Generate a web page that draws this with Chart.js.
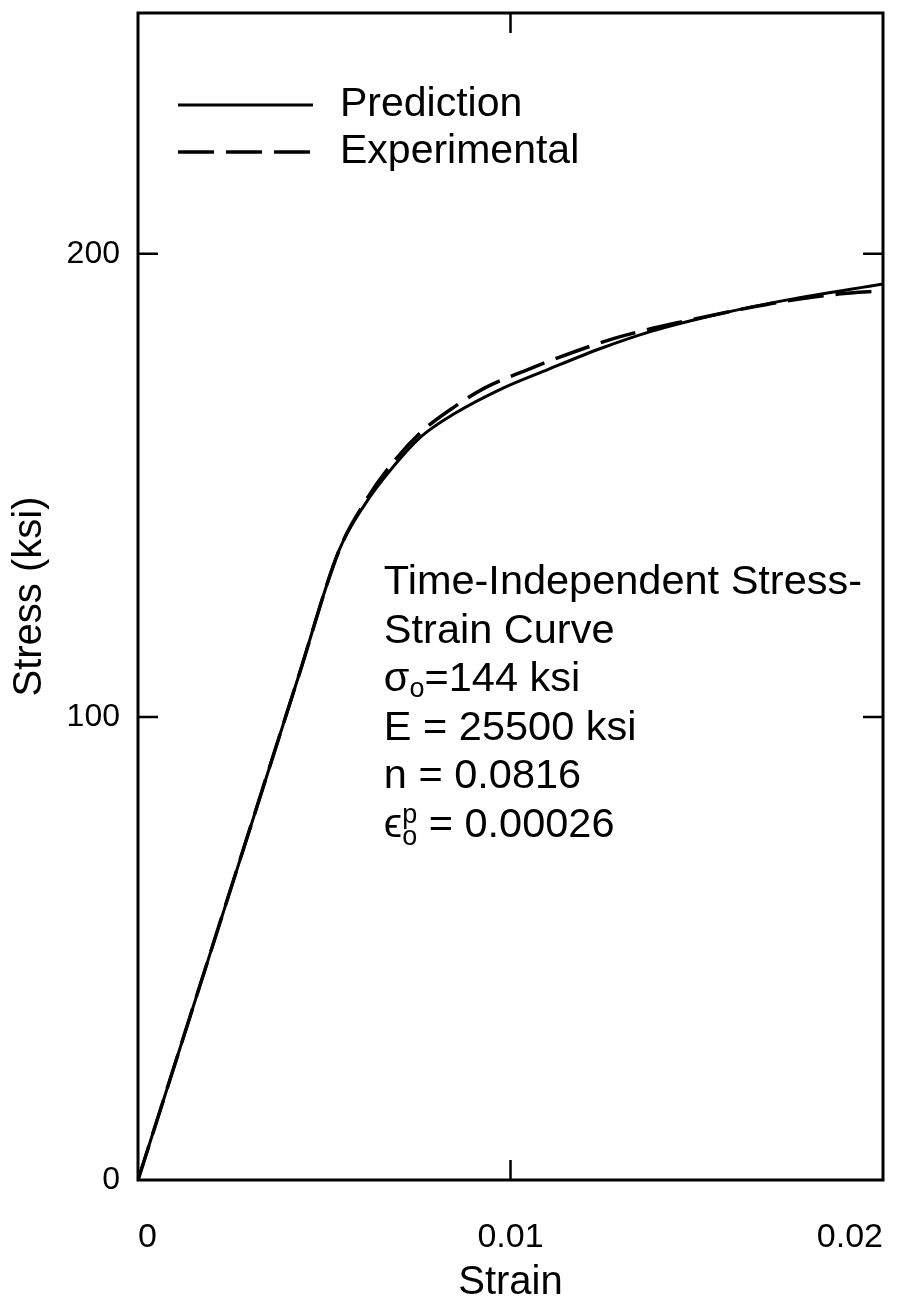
<!DOCTYPE html>
<html><head><meta charset="utf-8">
<script src="https://cdn.jsdelivr.net/npm/chart.js@4.4.0/dist/chart.umd.min.js"></script>
<style>html,body{margin:0;padding:0;background:#fff}#wrap{width:900px;height:1307px;position:relative}canvas{display:block}</style>
</head><body><div id="wrap"><canvas id="c" width="900" height="1307" style="width:900px;height:1307px"></canvas></div>
<script>
// ---- data ----
const strainPred = [0, 0.0043, 0.0054, 0.0061, 0.0068, 0.0076, 0.0085, 0.0098, 0.0110, 0.0124, 0.0138, 0.0156, 0.0174, 0.0200];
const stressPred = [0, 108.5, 136, 146, 153.5, 160.5, 165.5, 171, 175, 179.5, 183.3, 187, 190, 193.5];
const strainExp  = [0, 0.0043, 0.0054, 0.0061, 0.0068, 0.0076, 0.0085, 0.0093, 0.0104, 0.0117, 0.0129, 0.0147, 0.0165, 0.0174, 0.0188, 0.0200];
const stressExp  = [0, 108.5, 136, 146.5, 154.5, 161.5, 167, 171, 174.8, 178.8, 182, 185.5, 188.5, 189.8, 191.3, 192];
const xTickValues = [0, 0.01, 0.02];
const xTickLabels = ['0', '0.01', '0.02'];
const yTickValues = [0, 100, 200];
const yTickLabels = ['0', '100', '200'];
const seriesLabels = ['Prediction', 'Experimental'];
const xTitle = 'Strain';
const yTitle = 'Stress (ksi)';

const FONT = "'Liberation Sans', Arial, sans-serif";
const pts = (xs, ys) => xs.map((x, i) => ({x: x, y: ys[i]}));

const framePlugin = {
  id: 'frame',
  afterDatasetsDraw(chart) {
    const {ctx, chartArea: a, scales} = chart;
    ctx.save();
    ctx.strokeStyle = '#000';
    ctx.lineWidth = 3;
    ctx.strokeRect(a.left, a.top, a.right - a.left, a.bottom - a.top);
    ctx.lineWidth = 2.5;
    const tl = 20;
    yTickValues.filter(v => v !== 0).forEach(v => {
      const y = scales.y.getPixelForValue(v);
      ctx.beginPath();
      ctx.moveTo(a.left, y); ctx.lineTo(a.left + tl, y);
      ctx.moveTo(a.right, y); ctx.lineTo(a.right - tl, y);
      ctx.stroke();
    });
    xTickValues.filter(v => v !== 0 && v !== 0.02).forEach(v => {
      const x = scales.x.getPixelForValue(v);
      ctx.beginPath();
      ctx.moveTo(x, a.bottom); ctx.lineTo(x, a.bottom - tl);
      ctx.moveTo(x, a.top); ctx.lineTo(x, a.top + tl);
      ctx.stroke();
    });
    ctx.restore();
  }
};

const legendPlugin = {
  id: 'innerLegend',
  afterDatasetsDraw(chart) {
    const {ctx, chartArea: a} = chart;
    ctx.save();
    ctx.font = '41px ' + FONT;
    ctx.fillStyle = '#000';
    ctx.textBaseline = 'middle';
    chart.data.datasets.forEach((ds, i) => {
      const y = a.top + 92 + i * 47;
      const x0 = a.left + 40, x1 = a.left + 175;
      ctx.strokeStyle = ds.borderColor;
      ctx.lineWidth = ds.borderWidth;
      ctx.setLineDash(ds.borderDash || []);
      ctx.beginPath(); ctx.moveTo(x0, y); ctx.lineTo(x1, y); ctx.stroke();
      ctx.setLineDash([]);
      ctx.fillText(ds.label, a.left + 202, y);
    });
    ctx.restore();
  }
};

const annotationPlugin = {
  id: 'paramText',
  afterDatasetsDraw(chart) {
    const {ctx, scales} = chart;
    const x = scales.x.getPixelForValue(0.0066);
    const y0 = scales.y.getPixelForValue(129.0);
    const dy = 48.6;
    const big = '41.5px ' + FONT, small = '27px ' + FONT;
    ctx.save();
    ctx.fillStyle = '#000';
    ctx.textBaseline = 'middle';
    ctx.textAlign = 'left';
    const run = (parts, y) => {
      let cx = x;
      parts.forEach(p => {
        ctx.font = p.f;
        ctx.fillText(p.t, cx, y + (p.dy || 0));
        if (!p.nox) cx += ctx.measureText(p.t).width;
      });
    };
    run([{t: 'Time-Independent Stress-', f: big}], y0);
    run([{t: 'Strain Curve', f: big}], y0 + dy);
    run([{t: 'σ', f: big}, {t: 'o', f: small, dy: 10}, {t: '=144 ksi', f: big}], y0 + 2 * dy);
    run([{t: 'E = 25500 ksi', f: big}], y0 + 3 * dy);
    run([{t: 'n = 0.0816', f: big}], y0 + 4 * dy);
    run([{t: 'ϵ', f: big}, {t: 'p', f: small, dy: -10, nox: true}, {t: 'o', f: small, dy: 12}, {t: ' = 0.00026', f: big}], y0 + 5 * dy);
    ctx.restore();
  }
};

new Chart(document.getElementById('c').getContext('2d'), {
  type: 'line',
  data: {
    datasets: [
      {label: seriesLabels[0], data: pts(strainPred, stressPred), borderColor: '#000', borderWidth: 3,
       pointRadius: 0, cubicInterpolationMode: 'monotone', fill: false},
      {label: seriesLabels[1], data: pts(strainExp, stressExp), borderColor: '#000', borderWidth: 3.5,
       borderDash: [36, 12], pointRadius: 0, cubicInterpolationMode: 'monotone', fill: false}
    ]
  },
  options: {
    responsive: false, animation: false, devicePixelRatio: 1,
    layout: {padding: {top: 13, right: 17, left: 0, bottom: 0}},
    plugins: {legend: {display: false}, tooltip: {enabled: false}},
    scales: {
      x: {
        type: 'linear', min: 0, max: 0.02,
        afterBuildTicks: s => { s.ticks = xTickValues.map(v => ({value: v})); },
        afterFit: s => { s.height = 127; s.paddingLeft = 0; s.paddingRight = 0; },
        grid: {display: false, drawTicks: false}, border: {display: false},
        ticks: {padding: 37, align: 'inner', autoSkip: false, maxRotation: 0, color: '#000', font: {family: FONT, size: 34},
                callback: v => xTickLabels[xTickValues.indexOf(v)]},
        title: {display: true, text: xTitle, color: '#000', font: {family: FONT, size: 40}, padding: 0}
      },
      y: {
        type: 'linear', min: 0, max: 252,
        afterBuildTicks: s => { s.ticks = yTickValues.map(v => ({value: v})); },
        afterFit: s => { s.width = 138; s.paddingTop = 0; s.paddingBottom = 0; },
        grid: {display: false, drawTicks: false}, border: {display: false},
        ticks: {padding: 18, color: '#000', font: {family: FONT, size: 32},
                callback: v => yTickLabels[yTickValues.indexOf(v)]},
        title: {display: true, text: yTitle, color: '#000', font: {family: FONT, size: 40}, padding: 6}
      }
    }
  },
  plugins: [framePlugin, legendPlugin, annotationPlugin]
});
</script>
</body></html>
